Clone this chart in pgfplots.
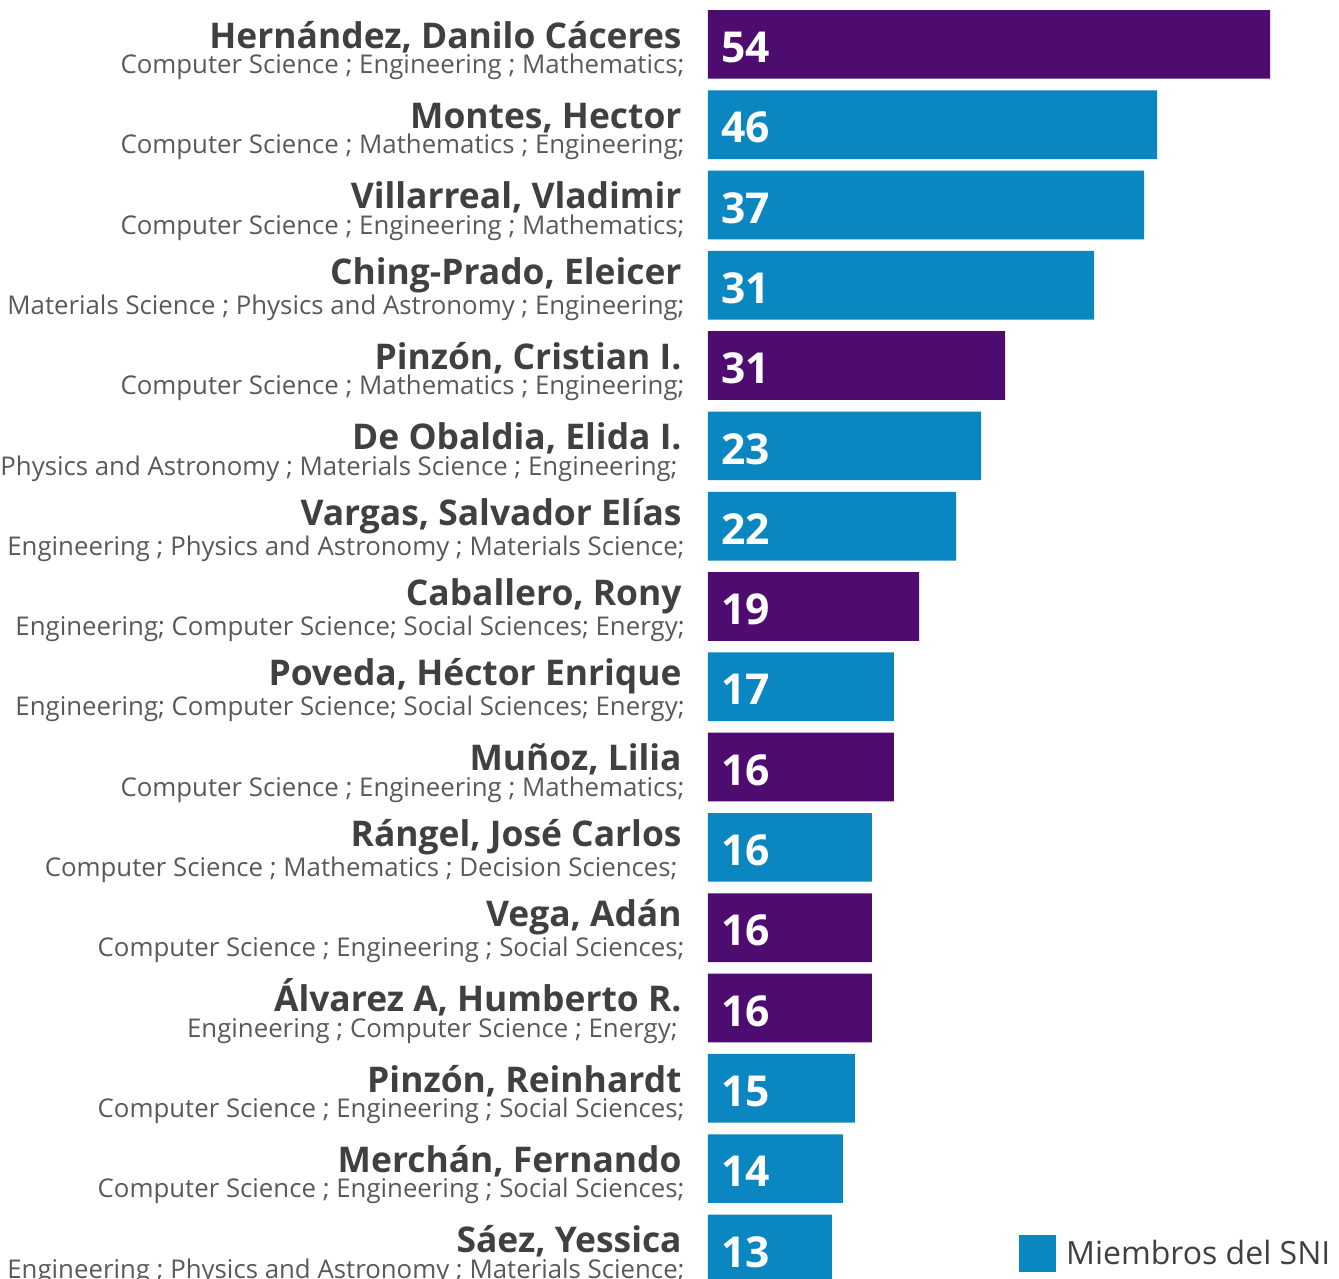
\documentclass[border=0pt]{standalone}
\usepackage{fontspec}
\setmainfont{Open Sans}
\usepackage{pgfplots}
\usepackage{pgfplotstable}
\pgfplotsset{compat=1.18}
\definecolor{sniBlue}{HTML}{0A86C0}
\definecolor{sniPurple}{HTML}{4E0C70}
\definecolor{nameGray}{HTML}{404040}
\definecolor{subGray}{HTML}{595959}

% y = row (1 = top), len = bar length, start = where the label sits, label = shown value
\pgfplotstableread{
y len start label
2 44.9 0 46
3 43.6 0 37
4 38.6 0 31
6 27.3 0 23
7 24.8 0 22
9 18.6 0 17
11 16.4 0 16
14 14.7 0 15
15 13.5 0 14
16 12.4 0 13
}\bluedata
\pgfplotstableread{
y len start label
1 56.2 0 54
5 29.7 0 31
8 21.1 0 19
10 18.6 0 16
12 16.4 0 16
13 16.4 0 16
}\purpledata

\newcommand\nm[2]{\lineskiplimit=-20pt\relax{\fontsize{17.7}{18}\selectfont\bfseries\color{nameGray}#1\hspace*{1.5pt}}\\#2}

\begin{document}
\begin{tikzpicture}
\begin{axis}[
  at={(354pt,0pt)}, anchor=north west,
  scale only axis, width=315.5pt, height=639.5pt,
  xmin=0, xmax=63.1,
  y dir=reverse, ymin=0.4477, ymax=16.375,
  axis line style={draw=none}, xtick=\empty,
  ytick={1,...,16},
  ytick style={draw=none},
  yticklabel style={align=right, font=\fontsize{12.9}{12.7}\selectfont, text=subGray,
    inner sep=0pt, anchor=base east, xshift=-11.5pt, yshift=-14.6pt},
  yticklabels={
    {\nm{Hernández, Danilo Cáceres}{Computer Science ; Engineering ; Mathematics;}},
    {\nm{Montes, Hector}{Computer Science ; Mathematics ; Engineering;}},
    {\nm{Villarreal, Vladimir}{Computer Science ; Engineering ; Mathematics;}},
    {\nm{Ching-Prado, Eleicer}{Materials Science ; Physics and Astronomy ; Engineering;}},
    {\nm{Pinzón, Cristian I.}{Computer Science ; Mathematics ; Engineering;}},
    {\nm{De Obaldia, Elida I.}{Physics and Astronomy ; Materials Science ; Engineering;\hspace*{3.5pt}}},
    {\nm{Vargas, Salvador Elías}{Engineering ; Physics and Astronomy ; Materials Science;}},
    {\nm{Caballero, Rony}{Engineering; Computer Science; Social Sciences; Energy;}},
    {\nm{Poveda, Héctor Enrique}{Engineering; Computer Science; Social Sciences; Energy;}},
    {\nm{Muñoz, Lilia}{Computer Science ; Engineering ; Mathematics;}},
    {\nm{Rángel, José Carlos}{Computer Science ; Mathematics ; Decision Sciences;\hspace*{3.5pt}}},
    {\nm{Vega, Adán}{Computer Science ; Engineering ; Social Sciences;}},
    {\nm{Álvarez A, Humberto R.}{Engineering ; Computer Science ; Energy;\hspace*{3.5pt}}},
    {\nm{Pinzón, Reinhardt}{Computer Science ; Engineering ; Social Sciences;}},
    {\nm{Merchán, Fernando}{Computer Science ; Engineering ; Social Sciences;}},
    {\nm{Sáez, Yessica}{Engineering ; Physics and Astronomy ; Materials Science;}}
  },
  legend style={at={(0.4929,0.02)}, anchor=west, draw=none, fill=none,
    inner sep=0pt, font=\fontsize{16}{18}\selectfont, text=nameGray},
  legend cell align=left,
]
\addplot[xbar, bar shift=0pt, bar width=34.35pt, fill=sniBlue, draw=none,
  legend image code/.code={\fill[sniBlue] (0pt,-9.17pt) rectangle (18.35pt,9.17pt);
    \path (21.35pt,0pt);}]
  table[x=len, y=y] {\bluedata};
\addlegendentry{Miembros del SNI}
\addplot[xbar, bar shift=0pt, bar width=34.35pt, fill=sniPurple, draw=none, forget plot]
  table[x=len, y=y] {\purpledata};
\addplot[draw=none, mark=none, forget plot, nodes near coords, point meta=explicit symbolic,
  nodes near coords style={anchor=west, inner sep=0pt, xshift=6.5pt, yshift=-1.5pt,
    text=white, font=\fontsize{21.3}{22}\selectfont\bfseries}]
  table[x=start, y=y, meta=label] {\bluedata};
\addplot[draw=none, mark=none, forget plot, nodes near coords, point meta=explicit symbolic,
  nodes near coords style={anchor=west, inner sep=0pt, xshift=6.5pt, yshift=-1.5pt,
    text=white, font=\fontsize{21.3}{22}\selectfont\bfseries}]
  table[x=start, y=y, meta=label] {\purpledata};
\end{axis}
\pgfresetboundingbox
\path[use as bounding box] (0pt,0pt) rectangle (669.5pt,-639.5pt);
\end{tikzpicture}
\end{document}
